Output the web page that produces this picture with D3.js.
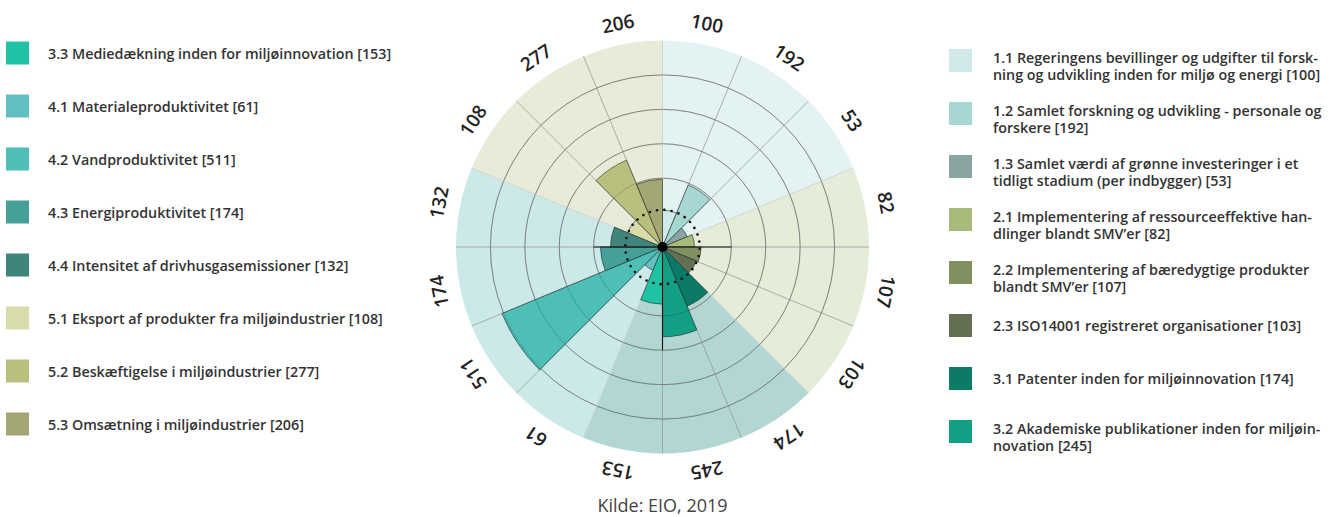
<!DOCTYPE html>
<html><head><meta charset="utf-8">
<script src="https://cdn.jsdelivr.net/npm/d3@7"></script>
<style>body{margin:0;background:#fff}svg{display:block}</style>
</head><body>
<svg id="c" width="1338" height="517"></svg>
<script>
// ---- data ----
const codes = ["1.1","1.2","1.3","2.1","2.2","2.3","3.1","3.2","3.3","4.1","4.2","4.3","4.4","5.1","5.2","5.3"];
const names = [
  "Regeringens bevillinger og udgifter til forsk-|ning og udvikling inden for miljø og energi",
  "Samlet forskning og udvikling - personale og|forskere",
  "Samlet værdi af grønne investeringer i et|tidligt stadium (per indbygger)",
  "Implementering af ressourceeffektive han-|dlinger blandt SMV’er",
  "Implementering af bæredygtige produkter|blandt SMV’er",
  "ISO14001 registreret organisationer",
  "Patenter inden for miljøinnovation",
  "Akademiske publikationer inden for miljøin-|novation",
  "Mediedækning inden for miljøinnovation",
  "Materialeproduktivitet",
  "Vandproduktivitet",
  "Energiproduktivitet",
  "Intensitet af drivhusgasemissioner",
  "Eksport af produkter fra miljøindustrier",
  "Beskæftigelse i miljøindustrier",
  "Omsætning i miljøindustrier"
];
const labelValues = [100,192,53,82,107,103,174,245,153,61,511,174,132,108,277,206];
// bar lengths, in grid units (grid rings every 100)
const barValues = [107,195,78,93,112,107,186,261,166,73,505,180,151,110,273,197];
const barColors = ["#cfeae8","#a6d7d3","#8aa5a1","#a8bc7a","#80915f","#647053","#0b7a67","#129f84","#1fc3a3","#62bfbf","#4dbfb7","#45a198","#40857b","#d8dcab","#b9bf7c","#a4a674"];
const groupOf = ["1","1","1","2","2","2","3","3","3","4","4","4","4","5","5","5"];
const groups = ["1","2","3","4","5"];
const groupColors = ["#e3f3f3","#e5ecd7","#b2d6d2","#cbe9e8","#e8ebd8"];
const gridTicks = [200,300,400,500];
const scaleMax = 600;
const referenceValue = 108;
const axisCodes = ["2.2","3.3","4.4"];   // spokes drawn in black, at the start of these sectors
const axisLengths = [200,300,200];
const leftLegendCodes = ["3.3","4.1","4.2","4.3","4.4","5.1","5.2","5.3"];
const rightLegendCodes = ["1.1","1.2","1.3","2.1","2.2","2.3","3.1","3.2"];
const source = "Kilde: EIO, 2019";

// ---- layout ----
const svg = d3.select("#c");
const cx = 662.5, cy = 247;
const R = 206.5;
const ang = d3.scaleBand().domain(codes).range([0, 2*Math.PI]).padding(0);
const rad = d3.scaleLinear().domain([0, scaleMax]).range([0, R]);
const bw = ang.bandwidth();
const g = svg.append("g").attr("transform", `translate(${cx},${cy})`);

// group backgrounds
const arc = d3.arc();
groups.forEach((grp, i) => {
  const members = codes.filter((c, j) => groupOf[j] === grp);
  g.append("path")
    .attr("d", arc({innerRadius: 0, outerRadius: rad(scaleMax),
      startAngle: ang(members[0]), endAngle: ang(members[members.length-1]) + bw}))
    .attr("fill", groupColors[i]);
});

// grid rings (under bars)
g.selectAll("circle.grid").data(gridTicks).join("circle")
  .attr("class","grid").attr("r", d => rad(d))
  .attr("fill","none").attr("stroke","#8a8a8a").attr("stroke-width",0.8);

// spokes
g.selectAll("line.spoke").data(codes).join("line")
  .attr("class","spoke")
  .attr("x1",0).attr("y1",0)
  .attr("x2", d => rad(scaleMax)*Math.sin(ang(d)))
  .attr("y2", d => -rad(scaleMax)*Math.cos(ang(d)))
  .attr("stroke", (d,i) => (i>0 && groupOf[i]!==groupOf[i-1]) || i===0 ? "#c9cfc9" : "#9a9a9a")
  .attr("stroke-width",0.8);

// bars
g.selectAll("path.bar").data(codes).join("path")
  .attr("class","bar")
  .attr("d", (d,i) => arc({innerRadius:0, outerRadius: rad(barValues[i]), startAngle: ang(d), endAngle: ang(d)+bw}))
  .attr("fill", (d,i) => barColors[i])
  .attr("stroke","#1f2a28").attr("stroke-width",0.6);

// faint rings over bars
g.selectAll("circle.grid2").data(gridTicks).join("circle")
  .attr("class","grid2").attr("r", d => rad(d))
  .attr("fill","none").attr("stroke","rgba(0,0,0,0.22)").attr("stroke-width",0.8);

// black axis spokes
g.selectAll("line.axis").data(axisCodes).join("line")
  .attr("class","axis")
  .attr("x1",0).attr("y1",0)
  .attr("x2", (d,i) => rad(axisLengths[i])*Math.sin(ang(d)))
  .attr("y2", (d,i) => -rad(axisLengths[i])*Math.cos(ang(d)))
  .attr("stroke","#111").attr("stroke-width",1.1);

// dotted reference ring
const nDots = 32;
g.selectAll("circle.dot").data(d3.range(nDots)).join("circle")
  .attr("class","dot")
  .attr("cx", d => rad(referenceValue)*Math.sin(d*2*Math.PI/nDots + Math.PI/64))
  .attr("cy", d => -rad(referenceValue)*Math.cos(d*2*Math.PI/nDots + Math.PI/64))
  .attr("r",1.3).attr("fill","#111");

// center dot
g.append("circle").attr("r",5).attr("fill","#000");

// value labels around
const labelR = 228;
g.selectAll("text.lab").data(codes).join("text")
  .attr("class","lab")
  .attr("transform", (d,i) => {
    const a = ang(d) + bw/2;
    return `translate(${labelR*Math.sin(a)},${-labelR*Math.cos(a)}) rotate(${a*180/Math.PI})`;
  })
  .attr("text-anchor","middle").attr("dominant-baseline","central")
  .attr("font-family","'Open Sans', sans-serif").attr("font-size",19).attr("font-weight",600)
  .attr("fill","#222")
  .text((d,i) => labelValues[i]);

// legends
function legend(list, swX, textX, y0) {
  list.forEach((c, k) => {
    const i = codes.indexOf(c);
    const y = y0 + 53*k;
    svg.append("rect").attr("x", swX).attr("y", y-11.5).attr("width",23).attr("height",23)
      .attr("fill", barColors[i]);
    const lines = (c + " " + names[i] + " [" + labelValues[i] + "]").split("|");
    const t = svg.append("text").attr("x", textX)
      .attr("font-family","'Open Sans', sans-serif").attr("font-size",14.3).attr("font-weight",600)
      .attr("fill","#333");
    if (lines.length === 1) {
      t.attr("y", y+5.5).text(lines[0]);
    } else {
      lines.forEach((ln, j) => t.append("tspan").attr("x", textX).attr("y", y + (j===0 ? 2 : 19.5)).text(ln));
    }
  });
}
legend(leftLegendCodes, 6, 48, 53);
legend(rightLegendCodes, 949, 993, 60.5);

// source
svg.append("text").attr("x", cx).attr("y", 512).attr("text-anchor","middle")
  .attr("font-family","'Open Sans', sans-serif").attr("font-size",18).attr("fill","#444")
  .text(source);
</script>
</body></html>
